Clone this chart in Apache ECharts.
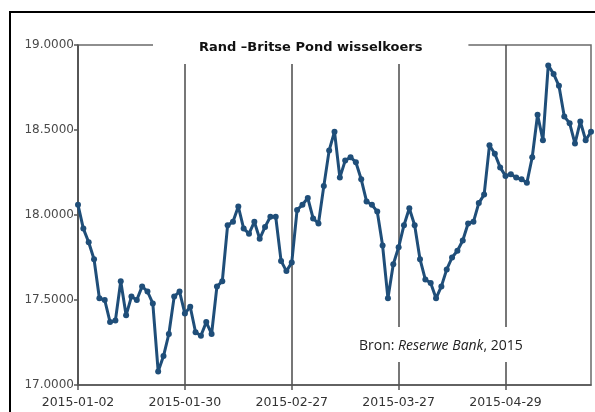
<!DOCTYPE html>
<html>
<head>
<meta charset="utf-8">
<script src="https://cdn.jsdelivr.net/npm/echarts@6/dist/echarts.min.js"></script>
<style>
  html, body { margin: 0; padding: 0; background: #fff; }
  #chart { width: 595px; height: 412px; }
</style>
</head>
<body>
<div id="chart"></div>
<script>
// handelsdae Jan - Mei 2015
var dates = [
  '2015-01-02', '2015-01-05', '2015-01-06', '2015-01-07', '2015-01-08', '2015-01-09',
  '2015-01-12', '2015-01-13', '2015-01-14', '2015-01-15', '2015-01-16',
  '2015-01-19', '2015-01-20', '2015-01-21', '2015-01-22', '2015-01-23',
  '2015-01-26', '2015-01-27', '2015-01-28', '2015-01-29', '2015-01-30',
  '2015-02-02', '2015-02-03', '2015-02-04', '2015-02-05', '2015-02-06',
  '2015-02-09', '2015-02-10', '2015-02-11', '2015-02-12', '2015-02-13',
  '2015-02-16', '2015-02-17', '2015-02-18', '2015-02-19', '2015-02-20',
  '2015-02-23', '2015-02-24', '2015-02-25', '2015-02-26', '2015-02-27',
  '2015-03-02', '2015-03-03', '2015-03-04', '2015-03-05', '2015-03-06',
  '2015-03-09', '2015-03-10', '2015-03-11', '2015-03-12', '2015-03-13',
  '2015-03-16', '2015-03-17', '2015-03-18', '2015-03-19', '2015-03-20',
  '2015-03-23', '2015-03-24', '2015-03-25', '2015-03-26', '2015-03-27',
  '2015-03-30', '2015-03-31', '2015-04-01', '2015-04-02',
  '2015-04-07', '2015-04-08', '2015-04-09', '2015-04-10',
  '2015-04-13', '2015-04-14', '2015-04-15', '2015-04-16', '2015-04-17',
  '2015-04-20', '2015-04-21', '2015-04-22', '2015-04-23', '2015-04-24',
  '2015-04-28', '2015-04-29', '2015-04-30',
  '2015-05-04', '2015-05-05', '2015-05-06', '2015-05-07', '2015-05-08',
  '2015-05-11', '2015-05-12', '2015-05-13', '2015-05-14', '2015-05-15',
  '2015-05-18', '2015-05-19', '2015-05-20', '2015-05-21', '2015-05-22'
];

// Rand per Britse Pond
var koers = [
  18.06, 17.92, 17.84, 17.74, 17.51, 17.50, 17.37, 17.38, 17.61, 17.41,
  17.52, 17.50, 17.58, 17.55, 17.48, 17.08, 17.17, 17.30, 17.52, 17.55,
  17.42, 17.46, 17.31, 17.29, 17.37, 17.30, 17.58, 17.61, 17.94, 17.96,
  18.05, 17.92, 17.89, 17.96, 17.86, 17.93, 17.99, 17.99, 17.73, 17.67,
  17.72, 18.03, 18.06, 18.10, 17.98, 17.95, 18.17, 18.38, 18.49, 18.22,
  18.32, 18.34, 18.31, 18.21, 18.08, 18.06, 18.02, 17.82, 17.51, 17.71,
  17.81, 17.94, 18.04, 17.94, 17.74, 17.62, 17.60, 17.51, 17.58, 17.68,
  17.75, 17.79, 17.85, 17.95, 17.96, 18.07, 18.12, 18.41, 18.36, 18.28,
  18.23, 18.24, 18.22, 18.21, 18.19, 18.34, 18.59, 18.44, 18.88, 18.83,
  18.76, 18.58, 18.54, 18.42, 18.55, 18.44, 18.49
];

var yMin = 17, yMax = 19, yStep = 0.5;
var labelEvery = 19; // elke 20ste handelsdag

var myChart = echarts.init(document.getElementById('chart'));
var option = {
  animation: false,
  title: {
    text: 'Rand \u2013Britse Pond wisselkoers',
    left: 153,
    top: 37,
    padding: [4, 46, 10, 46],
    backgroundColor: '#ffffff',
    textStyle: {
      fontFamily: 'DejaVu Sans',
      fontWeight: 'bold',
      fontSize: 13,
      color: '#111'
    },
    z: 10
  },
  grid: {
    left: 78,
    right: 4,
    top: 45,
    bottom: 27,
    show: true,
    borderColor: '#6a6a6a',
    borderWidth: 1.5
  },
  xAxis: {
    type: 'category',
    data: dates,
    boundaryGap: false,
    axisLine: { lineStyle: { color: '#555', width: 1.5 } },
    axisTick: { interval: labelEvery, length: 5, lineStyle: { color: '#555', width: 1.5 } },
    axisLabel: {
      interval: labelEvery,
      margin: 11,
      fontFamily: 'DejaVu Sans',
      fontSize: 12.5,
      color: '#333'
    },
    splitLine: {
      show: true,
      interval: labelEvery,
      lineStyle: { color: '#4a4a4a', width: 1.5 }
    }
  },
  yAxis: {
    type: 'value',
    min: yMin,
    max: yMax,
    interval: yStep,
    axisLine: { show: true, lineStyle: { color: '#555', width: 1.5 } },
    axisTick: { show: true, length: 4, lineStyle: { color: '#555', width: 1.5 } },
    axisLabel: {
      margin: 4,
      fontFamily: 'DejaVu Sans',
      fontSize: 12,
      color: '#4a4a4a',
      formatter: function (v) { return v.toFixed(4) }
    },
    splitLine: { show: false }
  },
  series: [
    {
      name: 'ZAR/GBP',
      type: 'line',
      data: koers,
      symbol: 'circle',
      symbolSize: 6,
      showSymbol: true,
      showAllSymbol: true,
      lineStyle: { color: '#1f4e79', width: 3 },
      itemStyle: { color: '#1f4e79' },
      z: 3
    }
  ],
  graphic: [
    {
      // buitenste raam
      type: 'rect',
      shape: { x: 10, y: 12, width: 620, height: 440 },
      style: { fill: 'none', stroke: '#000', lineWidth: 2 },
      z: 20
    },
    {
      type: 'rect',
      shape: { x: 355, y: 327, width: 173, height: 35 },
      style: { fill: '#fff' },
      z: 11
    },
    {
      type: 'text',
      left: 359,
      top: 339,
      style: {
        text: 'Bron: {i|Reserwe Bank}, 2015',
        font: '14px "Open Sans"',
        fill: '#222',
        rich: {
          i: { fontStyle: 'italic', fontFamily: 'Open Sans', fontSize: 14, fill: '#222' }
        }
      },
      z: 12
    },
    {
      type: 'rect',
      shape: { x: 355, y: 352, width: 173, height: 10 },
      style: { fill: '#fff' },
      z: 13
    }
  ]
};
myChart.setOption(option, true);
</script>
</body>
</html>
